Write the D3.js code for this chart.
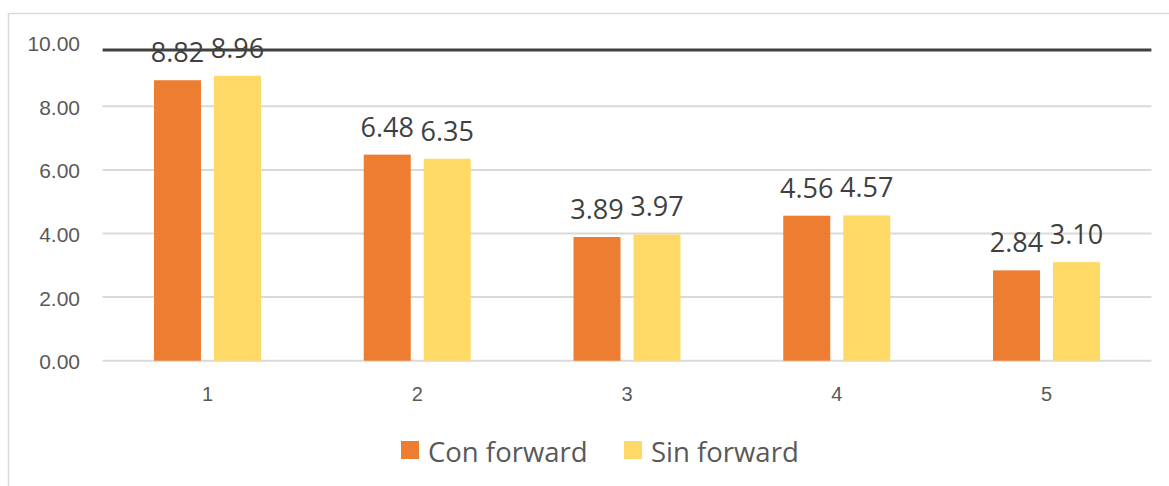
<!DOCTYPE html>
<html>
<head>
<meta charset="utf-8">
<script src="https://cdn.jsdelivr.net/npm/d3@7"></script>
<style>
  html, body { margin: 0; padding: 0; background: #fff; }
  svg { display: block; font-family: "Open Sans", "Noto Sans", sans-serif; }
</style>
</head>
<body>
<svg id="chart" width="1169" height="486"></svg>
<script>
// Categories along the x axis and the two series
const categories = ["1", "2", "3", "4", "5"];
const seriesNames = ["Con forward", "Sin forward"];
const conForward = [8.82, 6.48, 3.89, 4.56, 2.84];
const sinForward = [8.96, 6.35, 3.97, 4.57, 3.10];
const yTicks = [0, 2, 4, 6, 8, 10];
const referenceLine = 9.77;

const colors = ["#ED7D31", "#FFD966"];
const textColor = "#595959";

const svg = d3.select("#chart");
const W = 1169, H = 486;

// Outer frame of the chart area
svg.append("rect")
  .attr("x", 8.5).attr("y", 13.5)
  .attr("width", W).attr("height", H)
  .attr("fill", "none").attr("stroke", "#D9D9D9").attr("stroke-width", 1.5);

const plot = { left: 102.6, right: 1151.4, top: 42.7, bottom: 360.7 };

const x = d3.scaleBand().domain(categories).range([plot.left, plot.right]).padding(0);
const barSpan = 107;
const x1 = d3.scaleBand().domain(seriesNames)
  .range([x.bandwidth() / 2 - barSpan / 2, x.bandwidth() / 2 + barSpan / 2])
  .paddingInner(13 / 60).paddingOuter(0);
const y = d3.scaleLinear().domain([0, 10]).range([plot.bottom, plot.top]);

// Horizontal gridlines (top one replaced by the reference line)
svg.append("g")
  .selectAll("line")
  .data(yTicks.filter(t => t < 10))
  .join("line")
  .attr("x1", plot.left).attr("x2", plot.right)
  .attr("y1", d => y(d)).attr("y2", d => y(d))
  .attr("stroke", "#D9D9D9").attr("stroke-width", 2);

// Y axis labels
const yAxis = d3.axisLeft(y).tickValues(yTicks).tickFormat(d3.format(".2f")).tickSize(0).tickPadding(0);
const yG = svg.append("g").attr("transform", `translate(80,0)`).call(yAxis);
yG.select(".domain").remove();
yG.selectAll("text")
  .attr("fill", textColor)
  .style("font-size", "21px")
  .attr("dy", "0.38em");

// X axis labels
const xAxis = d3.axisBottom(x).tickSize(0).tickPadding(0);
const xG = svg.append("g").attr("transform", `translate(0,${plot.bottom})`).call(xAxis);
xG.select(".domain").remove();
xG.selectAll("text")
  .attr("fill", textColor)
  .style("font-size", "20px")
  .attr("y", 33)
  .attr("dy", "0.36em");

// Bars
const rows = categories.map((c, i) => ({ cat: c, values: [conForward[i], sinForward[i]] }));
const groups = svg.append("g").selectAll("g")
  .data(rows)
  .join("g")
  .attr("transform", d => `translate(${x(d.cat)},0)`);

groups.selectAll("rect")
  .data(d => d.values.map((v, j) => ({ name: seriesNames[j], value: v, j })))
  .join("rect")
  .attr("x", d => x1(d.name))
  .attr("width", x1.bandwidth())
  .attr("y", d => y(d.value))
  .attr("height", d => y(0) - y(d.value))
  .attr("fill", d => colors[d.j]);

// Dark reference line across the plot
svg.append("line")
  .attr("x1", plot.left).attr("x2", plot.right)
  .attr("y1", y(referenceLine)).attr("y2", y(referenceLine))
  .attr("stroke", "#404040").attr("stroke-width", 3);

// Value labels above each bar
groups.selectAll("text.val")
  .data(d => d.values.map((v, j) => ({ name: seriesNames[j], value: v, j })))
  .join("text")
  .attr("class", "val")
  .attr("x", d => x1(d.name) + x1.bandwidth() / 2)
  .attr("y", d => y(d.value) - 18)
  .attr("text-anchor", "middle")
  .attr("fill", "#404040")
  .style("font-size", "27px")
  .text(d => d3.format(".2f")(d.value));

// Legend
const legend = svg.append("g");
const legendX = [401, 624];
seriesNames.forEach((name, j) => {
  legend.append("rect")
    .attr("x", legendX[j]).attr("y", 441)
    .attr("width", 18).attr("height", 18)
    .attr("fill", colors[j]);
  legend.append("text")
    .attr("x", legendX[j] + 27).attr("y", 452)
    .attr("dy", "0.36em")
    .attr("fill", textColor)
    .style("font-size", "27.5px")
    .text(name);
});
</script>
</body>
</html>
